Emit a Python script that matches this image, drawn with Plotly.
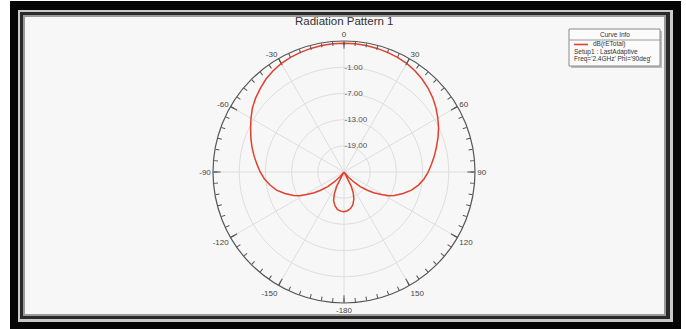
import plotly.graph_objects as go

W, H = 686, 329

# ---- data ----
theta_deg = [-180, -175, -170, -165, -160, -156, -153, -150, -142, -139, -135, -132, -128, -125,
             -121, -118, -115, -110, -105, -100, -95, -90, -85, -80, -75, -70, -65, -60, -55,
             -50, -45, -40, -35, -30, -25, -20, -15, -10, -5, 0,
             5, 10, 15, 20, 25, 30, 35, 40, 45, 50, 55, 60, 65, 70, 75, 80, 85, 90, 95, 100,
             105, 110, 115, 118, 121, 125, 128, 132, 135, 139, 142, 150, 153, 156, 160, 165,
             170, 175, 180]
db_rETotal = [-15.9, -16.0, -16.3, -17.0, -18.0, -19.6, -21.3, -25.0, -25.0, -23.5, -21.7, -20.0, -18.2, -16.7,
              -15.0, -13.4, -12.3, -10.6, -9.0, -7.8, -6.7, -5.8, -5.0, -4.1, -3.2, -2.3, -1.4, -0.4, 0.6,
              1.4, 2.1, 2.8, 3.3, 3.7, 3.95, 4.15, 4.3, 4.4, 4.48, 4.5,
              4.48, 4.4, 4.3, 4.15, 3.95, 3.7, 3.3, 2.8, 2.2, 1.5, 0.7, -0.2, -1.1, -2.1, -3.1, -4.0, -4.9, -5.7, -6.6, -7.7,
              -9.0, -10.6, -12.3, -13.4, -15.0, -16.7, -18.2, -20.0, -21.7, -23.5, -25.0, -25.0, -21.5, -19.8, -18.4, -17.2,
              -16.5, -16.1, -15.9]

radial_ticks = [-19, -13, -7, -1]
radial_ticktext = ["-19.00", "-13.00", "-7.00", "-1.00"]
radial_range = [-25, 5]

angle_major_vals = [0, 30, 60, 90, 120, 150, 180, 210, 240, 270, 300, 330]
angle_major_text = ["0", "30", "60", "90", "120", "150", "-180", "-150", "-120", "-90", "-60", "-30"]
angle_minor_vals = list(range(0, 360, 5))

title_text = "Radiation Pattern 1"
legend_header = "Curve Info"
legend_lines = ["dB(rETotal)", "Setup1 : LastAdaptive", "Freq='2.4GHz' Phi='90deg'"]


def px(x):
    return x / W


def py(y):
    return 1 - y / H


dom_x = [px(213), px(475)]
dom_y = [py(303), py(41)]

fig = go.Figure()
fig.add_trace(go.Scatterpolar(
    r=db_rETotal, theta=theta_deg, mode="lines",
    line=dict(color="#e2402f", width=1.5),
    name=legend_lines[0], showlegend=False, subplot="polar"))
# helper subplot for the short (5 degree) angular ticks
fig.add_trace(go.Scatterpolar(r=[], theta=[], mode="lines", showlegend=False,
                              subplot="polar2", hoverinfo="skip"))

font_fam = "Liberation Sans, Arial, sans-serif"

fig.update_layout(
    width=W, height=H,
    margin=dict(l=0, r=0, t=0, b=0),
    paper_bgcolor="white",
    showlegend=False,
    polar=dict(
        domain=dict(x=dom_x, y=dom_y),
        bgcolor="rgba(0,0,0,0)",
        angularaxis=dict(
            direction="clockwise", rotation=90,
            tickmode="array", tickvals=angle_major_vals, ticktext=angle_major_text,
            ticks="inside", ticklen=7, tickcolor="#555", tickwidth=1,
            showline=True, linecolor="#555", linewidth=1.2,
            showgrid=True, gridcolor="#dedede", gridwidth=1,
            tickfont=dict(family=font_fam, size=8, color="#444"),
        ),
        radialaxis=dict(
            range=radial_range, angle=90, side="clockwise",
            tickmode="array", tickvals=radial_ticks, ticktext=radial_ticktext,
            showline=False, ticks="", tickangle=90,
            showgrid=True, gridcolor="#dedede", gridwidth=1,
            tickfont=dict(family=font_fam, size=8, color="#555"),
        ),
    ),
    polar2=dict(
        domain=dict(x=dom_x, y=dom_y),
        bgcolor="rgba(0,0,0,0)",
        angularaxis=dict(
            direction="clockwise", rotation=90,
            tickmode="array", tickvals=angle_minor_vals,
            ticks="inside", ticklen=4, tickcolor="#555", tickwidth=1,
            showline=False, showgrid=False, showticklabels=False,
        ),
        radialaxis=dict(range=radial_range, visible=False, showgrid=False),
    ),
)

shapes = []
# black frame with double inner lines
shapes.append(dict(type="rect", xref="paper", yref="paper", x0=px(10), x1=px(681), y0=py(329), y1=py(1),
                   fillcolor="#050505", line=dict(width=0), layer="below"))
shapes.append(dict(type="rect", xref="paper", yref="paper", x0=px(18), x1=px(673), y0=py(322), y1=py(10),
                   fillcolor="#c9c9c9", line=dict(width=0), layer="below"))
shapes.append(dict(type="rect", xref="paper", yref="paper", x0=px(20), x1=px(670), y0=py(319), y1=py(12),
                   fillcolor="#2a2a2a", line=dict(width=0), layer="below"))
shapes.append(dict(type="rect", xref="paper", yref="paper", x0=px(23), x1=px(666), y0=py(316), y1=py(15),
                   fillcolor="#9a9a9a", line=dict(width=0), layer="below"))
shapes.append(dict(type="rect", xref="paper", yref="paper", x0=px(25), x1=px(664), y0=py(314), y1=py(17),
                   fillcolor="#f7f7f7", line=dict(width=0), layer="below"))
# legend box (shadow, box, separator, sample line)
shapes.append(dict(type="rect", xref="paper", yref="paper", x0=px(571), x1=px(662), y0=py(68), y1=py(31),
                   fillcolor="#bdbdbd", line=dict(width=0)))
shapes.append(dict(type="rect", xref="paper", yref="paper", x0=px(569), x1=px(660), y0=py(66), y1=py(29),
                   fillcolor="#fbfbfb", line=dict(color="#8a8a8a", width=1)))
shapes.append(dict(type="line", xref="paper", yref="paper", x0=px(569), x1=px(660), y0=py(40), y1=py(40),
                   line=dict(color="#9a9a9a", width=1)))
shapes.append(dict(type="line", xref="paper", yref="paper", x0=px(574), x1=px(588), y0=py(44.5), y1=py(44.5),
                   line=dict(color="#e2402f", width=1.6)))

annotations = [
    dict(text=title_text, x=px(344), y=py(21), xref="paper", yref="paper", showarrow=False,
         xanchor="center", yanchor="middle", font=dict(family=font_fam, size=11.5, color="#333")),
    dict(text=legend_header, x=px(614.5), y=py(34.5), xref="paper", yref="paper", showarrow=False,
         xanchor="center", yanchor="middle", font=dict(family=font_fam, size=6.5, color="#333")),
    dict(text=legend_lines[0], x=px(591), y=py(44.5), xref="paper", yref="paper", showarrow=False,
         xanchor="left", yanchor="middle", font=dict(family=font_fam, size=6.5, color="#333")),
    dict(text=legend_lines[1], x=px(572), y=py(52), xref="paper", yref="paper", showarrow=False,
         xanchor="left", yanchor="middle", font=dict(family=font_fam, size=6.5, color="#333")),
    dict(text=legend_lines[2], x=px(572), y=py(59.5), xref="paper", yref="paper", showarrow=False,
         xanchor="left", yanchor="middle", font=dict(family=font_fam, size=6.5, color="#333")),
]

fig.update_layout(shapes=shapes, annotations=annotations)
fig.write_html("out.html")
